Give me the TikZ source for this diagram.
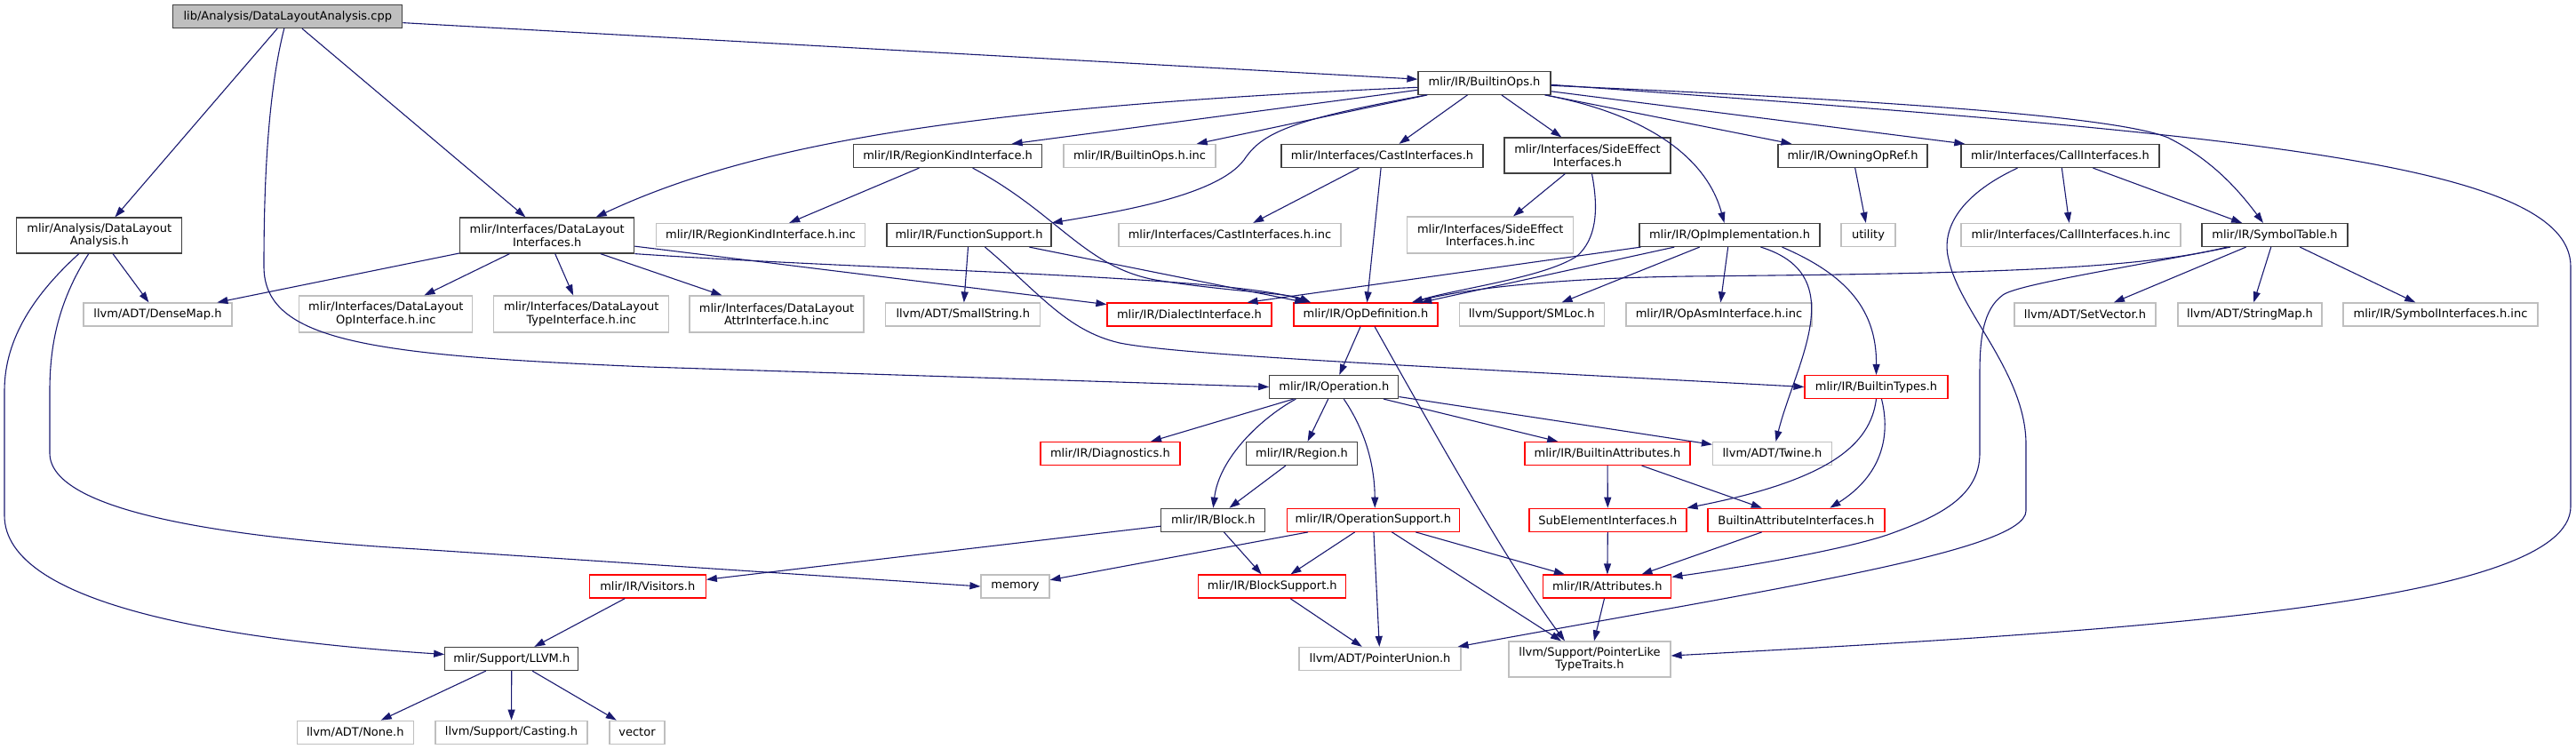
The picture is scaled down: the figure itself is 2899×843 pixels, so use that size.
\documentclass[tikz,border=0pt]{standalone}
\usepackage{fontspec}
\setmainfont{DejaVu Sans}
\usetikzlibrary{arrows.meta}
\definecolor{edgeblue}{HTML}{191970}
\definecolor{boxgray}{HTML}{BFBFBF}
\definecolor{boxdark}{HTML}{404040}

\begin{document}
\begin{tikzpicture}[x=1pt, y=-1pt,
  every node/.style={font=\fontsize{13}{14.5}\selectfont, inner sep=0pt,
    minimum height=26pt, align=center},
  hdrbox/.style={draw=boxdark, line width=1.2pt, fill=white},
  extbox/.style={draw=boxgray, line width=1.2pt, fill=white},
  redbox/.style={draw=red, line width=1.2pt, fill=white},
  rootbox/.style={draw=boxdark, line width=1.2pt, fill=boxgray},
  dep/.style={draw=edgeblue, line width=1.1pt, -{Triangle[length=12pt,width=8pt]}}]
\useasboundingbox (0,0) rectangle (2899,843);

%Start with the file itself, then lay out the headers row by row
% (positions are in pixels, y grows downwards)
\node[rootbox, minimum width=258pt] (cpp) at (323.8,18.5) {lib/Analysis/DataLayoutAnalysis.cpp};
\node[hdrbox, minimum width=149pt] (bops) at (1670.5,93.3) {mlir/IR/BuiltinOps.h};

% second row
\node[hdrbox, minimum width=212pt] (rki) at (1066.6,175.5) {mlir/IR/RegionKindInterface.h};
\node[extbox, minimum width=171pt] (bopsinc) at (1282.5,175.5) {mlir/IR/BuiltinOps.h.inc};
\node[hdrbox, minimum width=227pt] (cast) at (1555.5,175.5) {mlir/Interfaces/CastInterfaces.h};
\node[hdrbox, minimum width=187pt, minimum height=40pt] (side) at (1786.5,175) {mlir/Interfaces/SideEffect\\Interfaces.h};
\node[hdrbox, minimum width=168pt] (owning) at (2085,175.5) {mlir/IR/OwningOpRef.h};
\node[hdrbox, minimum width=223pt] (call) at (2318.5,175.5) {mlir/Interfaces/CallInterfaces.h};

% third row
\node[hdrbox, minimum width=186pt, minimum height=40pt] (anah) at (111.8,265) {mlir/Analysis/DataLayout\\Analysis.h};
\node[hdrbox, minimum width=196pt, minimum height=40pt] (dlif) at (615.7,265) {mlir/Interfaces/DataLayout\\Interfaces.h};
\node[extbox, minimum width=235pt] (rkiinc) at (856,264.5) {mlir/IR/RegionKindInterface.h.inc};
\node[hdrbox, minimum width=185pt] (func) at (1090.5,264.5) {mlir/IR/FunctionSupport.h};
\node[extbox, minimum width=250pt] (castinc) at (1384,264.5) {mlir/Interfaces/CastInterfaces.h.inc};
\node[extbox, minimum width=187pt, minimum height=41pt] (sideinc) at (1677.3,264.5) {mlir/Interfaces/SideEffect\\Interfaces.h.inc};
\node[hdrbox, minimum width=203pt] (opimpl) at (1946.5,264.5) {mlir/IR/OpImplementation.h};
\node[extbox, minimum width=61pt] (utility) at (2102.5,264.5) {utility};
\node[extbox, minimum width=247pt] (callinc) at (2330.5,264.5) {mlir/Interfaces/CallInterfaces.h.inc};
\node[hdrbox, minimum width=164pt] (symtab) at (2560,264.5) {mlir/IR/SymbolTable.h};

% fourth row
\node[extbox, minimum width=167pt] (densemap) at (177.5,354) {llvm/ADT/DenseMap.h};
\node[extbox, minimum width=195pt, minimum height=41pt] (dlopinc) at (434.3,353.5) {mlir/Interfaces/DataLayout\\OpInterface.h.inc};
\node[extbox, minimum width=197pt, minimum height=41pt] (dltypeinc) at (654.3,353.5) {mlir/Interfaces/DataLayout\\TypeInterface.h.inc};
\node[extbox, minimum width=196pt, minimum height=41pt] (dlattrinc) at (874,353.5) {mlir/Interfaces/DataLayout\\AttrInterface.h.inc};
\node[extbox, minimum width=174pt] (smallstr) at (1083.8,354) {llvm/ADT/SmallString.h};
\node[redbox, minimum width=185pt] (dialect) at (1338.5,354) {mlir/IR/DialectInterface.h};
\node[redbox, minimum width=162pt] (opdef) at (1537,354) {mlir/IR/OpDefinition.h};
\node[extbox, minimum width=163pt] (smloc) at (1723.7,354) {llvm/Support/SMLoc.h};
\node[extbox, minimum width=209pt] (opasminc) at (1934.5,354) {mlir/IR/OpAsmInterface.h.inc};
\node[extbox, minimum width=159pt] (setvec) at (2346.5,354) {llvm/ADT/SetVector.h};
\node[extbox, minimum width=162pt] (strmap) at (2532,354) {llvm/ADT/StringMap.h};
\node[extbox, minimum width=219pt] (symifinc) at (2746.5,354) {mlir/IR/SymbolInterfaces.h.inc};

% lower rows
\node[hdrbox, minimum width=145pt] (op) at (1501.3,435.5) {mlir/IR/Operation.h};
\node[redbox, minimum width=161pt] (btypes) at (2111.5,435.5) {mlir/IR/BuiltinTypes.h};
\node[redbox, minimum width=157pt] (diag) at (1249.4,510.5) {mlir/IR/Diagnostics.h};
\node[hdrbox, minimum width=125pt] (region) at (1465,510.5) {mlir/IR/Region.h};
\node[redbox, minimum width=186pt] (battrs) at (1809,510.5) {mlir/IR/BuiltinAttributes.h};
\node[extbox, minimum width=134pt] (twine) at (1994.5,510.5) {llvm/ADT/Twine.h};
\node[hdrbox, minimum width=117pt] (block) at (1365.3,585.3) {mlir/IR/Block.h};
\node[redbox, minimum width=194pt] (opsup) at (1545.3,585.3) {mlir/IR/OperationSupport.h};
\node[redbox, minimum width=177pt] (subel) at (1809.4,585.3) {SubElementInterfaces.h};
\node[redbox, minimum width=199pt] (battrif) at (2021.4,585.3) {BuiltinAttributeInterfaces.h};
\node[redbox, minimum width=131pt] (visitors) at (728.8,660) {mlir/IR/Visitors.h};
\node[extbox, minimum width=77pt] (memory) at (1142.5,660) {memory};
\node[redbox, minimum width=166pt] (blocksup) at (1431.8,660) {mlir/IR/BlockSupport.h};
\node[redbox, minimum width=144pt] (attrs) at (1808.8,660) {mlir/IR/Attributes.h};
\node[hdrbox, minimum width=150pt] (llvm) at (575.8,741.5) {mlir/Support/LLVM.h};
\node[extbox, minimum width=182pt] (ptrunion) at (1553,741.5) {llvm/ADT/PointerUnion.h};
\node[extbox, minimum width=182pt, minimum height=40pt] (ptrlike) at (1789,742) {llvm/Support/PointerLike\\TypeTraits.h};
\node[extbox, minimum width=131pt] (none) at (399.8,824.2) {llvm/ADT/None.h};
\node[extbox, minimum width=171pt] (casting) at (575.5,824.2) {llvm/Support/Casting.h};
\node[extbox, minimum width=62pt] (vector) at (717,824.2) {vector};

% includes of the source file
\draw[dep] (cpp) -- (anah);
\draw[dep] (cpp) -- (dlif);
\draw[dep] (cpp) -- (bops);
\draw[dep] ([xshift=-4pt]cpp.south) .. controls (300,110) and (297,220) .. (297,300)
  .. controls (297,385) and (420,400) .. (730,413) -- (op.west);

% mlir/Analysis/DataLayoutAnalysis.h
\draw[dep] (anah) -- (densemap);
\draw[dep] ([xshift=-23pt]anah.south) .. controls (40,330) and (5,380) .. (5,440) -- (5,580)
  .. controls (5,680) and (250,720) .. ([yshift=5pt]llvm.west);
\draw[dep] ([xshift=-12pt]anah.south) .. controls (65,340) and (56,390) .. (56,440) -- (56,510)
  .. controls (56,575) and (250,605) .. (470,618) -- (memory.west);

% mlir/Interfaces/DataLayoutInterfaces.h
\draw[dep] (dlif) -- (densemap);
\draw[dep] (dlif) -- (dlopinc);
\draw[dep] (dlif) -- (dltypeinc);
\draw[dep] (dlif) -- (dlattrinc);
\draw[dep] (dlif) -- (dialect);
\draw[dep] (dlif.south east) .. controls (1000,305) and (1380,310) .. ([xshift=-62pt]opdef.north);

% mlir/IR/BuiltinOps.h
\draw[dep] ([yshift=-5pt]bops.west) .. controls (1100,120) and (850,160) .. ([xshift=55pt]dlif.north);
\draw[dep] ([yshift=-8pt]bops.west) -- ([xshift=72pt]rki.north);
\draw[dep] (bops) -- (bopsinc);
\draw[dep] ([xshift=-65pt]bops.south) .. controls (1450,135) and (1420,150) .. (1400,180)
  .. controls (1370,220) and (1260,238) .. (func.north east);
\draw[dep] (bops) -- (cast);
\draw[dep] (bops) -- (side);
\draw[dep] ([xshift=68pt]bops.south) .. controls (1850,128) and (1920,175) .. ([xshift=-6pt]opimpl.north);
\draw[dep] (bops) -- (owning);
\draw[dep] (bops) -- (call);
\draw[dep] ([yshift=-3pt]bops.east) .. controls (2100,112) and (2380,130) .. (2440,155)
  .. controls (2490,180) and (2520,215) .. ([xshift=-13pt]symtab.north);
\draw[dep] ([yshift=-2pt]bops.east) .. controls (2500,150) and (2893,180) .. (2893,300) -- (2893,570)
  .. controls (2893,680) and (2400,710) .. ([yshift=4pt]ptrlike.east);

% second row headers
\draw[dep] (rki) -- (rkiinc);
\draw[dep] ([xshift=28pt]rki.south) .. controls (1190,240) and (1220,300) .. (1300,315)
  .. controls (1380,328) and (1450,330) .. ([xshift=-62pt]opdef.north);
\draw[dep] (cast) -- (castinc);
\draw[dep] (cast) -- (opdef);
\draw[dep] (side) -- (sideinc);
\draw[dep] ([xshift=5pt]side.south) .. controls (1800,240) and (1795,270) .. (1775,288)
  .. controls (1740,312) and (1640,325) .. ([xshift=52pt]opdef.north);
\draw[dep] (owning) -- (utility);
\draw[dep] (call) -- (callinc);
\draw[dep] (call) -- (symtab);
\draw[dep] ([xshift=-48pt]call.south) .. controls (2200,222) and (2185,262) .. (2193,292)
  .. controls (2205,350) and (2280,420) .. (2280,500) -- (2280,575)
  .. controls (2280,620) and (2000,662) .. ([xshift=-4pt]ptrunion.north east);

% third row headers
\draw[dep] (func) -- (smallstr);
\draw[dep] (func) -- (opdef);
\draw[dep] ([xshift=18pt]func.south) .. controls (1170,330) and (1200,372) .. (1260,386)
  .. controls (1330,400) and (1600,412) .. (btypes.west);
\draw[dep] (opimpl) -- (opdef);
\draw[dep] ([xshift=-100pt]opimpl.south) -- ([xshift=65pt]dialect.north);
\draw[dep] (opimpl) -- (smloc);
\draw[dep] (opimpl) -- (opasminc);
\draw[dep] ([xshift=35pt]opimpl.south) .. controls (2085,310) and (2020,410) .. ([xshift=4pt]twine.north);
\draw[dep] ([xshift=59pt]opimpl.south) .. controls (2080,310) and (2112,350) .. (btypes.north);
\draw[dep] ([xshift=-54pt]symtab.south) .. controls (2400,305) and (2200,308) .. (1900,311)
  .. controls (1750,313) and (1650,325) .. ([xshift=52pt]opdef.north);
\draw[dep] (symtab) -- (setvec);
\draw[dep] (symtab) -- (strmap);
\draw[dep] (symtab) -- (symifinc);
\draw[dep] ([xshift=-50pt]symtab.south) .. controls (2400,300) and (2270,320) .. (2254,332)
  .. controls (2232,348) and (2228,380) .. (2228,420) -- (2228,510)
  .. controls (2228,560) and (2180,582) .. (2124,602)
  .. controls (2070,620) and (1950,640) .. ([yshift=-3pt]attrs.north east);

% Operation.h and below
\draw[dep] (opdef) -- (op);
\draw[dep] ([xshift=10pt]opdef.south) .. controls (1610,480) and (1700,640) .. ([xshift=-28pt]ptrlike.north);
\draw[dep] (op) -- (diag);
\draw[dep] (op) -- (region);
\draw[dep] ([xshift=-43pt]op.south) .. controls (1420,470) and (1372,515) .. (block.north);
\draw[dep] ([xshift=11pt]op.south) .. controls (1540,490) and (1547,530) .. ([xshift=2pt]opsup.north);
\draw[dep] (op) -- (battrs);
\draw[dep] (op) -- (twine);
\draw[dep] (region) -- (block);
\draw[dep] (btypes.south) .. controls (2105,500) and (2060,540) .. (subel.north east);
\draw[dep] ([xshift=6pt]btypes.south) .. controls (2130,500) and (2110,540) .. ([xshift=38pt]battrif.north);
\draw[dep] (battrs) -- (subel);
\draw[dep] (battrs) -- (battrif);
\draw[dep] (subel) -- (attrs);
\draw[dep] (battrif) -- (attrs);
\draw[dep] (block) -- (visitors);
\draw[dep] (block) -- (blocksup);
\draw[dep] (opsup) -- (memory);
\draw[dep] (opsup) -- (blocksup);
\draw[dep] (opsup) -- (ptrunion);
\draw[dep] (opsup) -- (ptrlike);
\draw[dep] (opsup) -- (attrs);
\draw[dep] (blocksup) -- (ptrunion);
\draw[dep] (attrs) -- (ptrlike);
\draw[dep] (visitors) -- (llvm);
\draw[dep] (llvm) -- (none);
\draw[dep] (llvm) -- (casting);
\draw[dep] (llvm) -- (vector);
\end{tikzpicture}
\end{document}
